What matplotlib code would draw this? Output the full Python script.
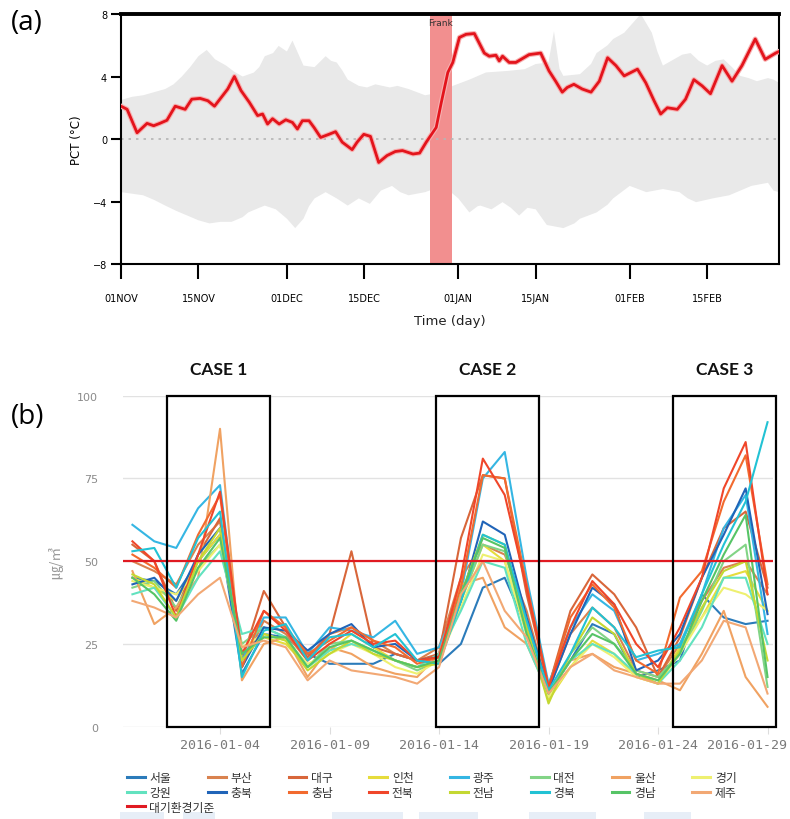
import matplotlib
matplotlib.use('Agg')
import matplotlib.pyplot as plt
from matplotlib.patches import Rectangle
from matplotlib.transforms import ScaledTranslation
import numpy as np

## (a) PCT data, vertices (day since 01NOV, value) ###############################
pct_days = [0, 1.1, 2.9, 4.7, 5.9, 7, 8.3, 9.8, 11.6, 12.8, 14.3, 15.7, 16.9, 18.1, 19.3,
            20.5, 21.7, 23.2, 24.7, 25.6, 26.5, 27.4, 28.6, 29.8, 31, 31.9, 32.8, 34, 34.9,
            36.1, 37.6, 38.8, 40, 41.8, 42.7, 43.9, 45.1, 46.6, 48.1, 49.6, 50.9, 52.8, 54,
            55.2, 57, 57.9, 59.1, 60, 61.2, 62.4, 63.9, 65.7, 66.6, 67.8, 68.4, 69, 70.2,
            71.4, 73.8, 75.9, 77.4, 78.6, 79.8, 80.7, 81.9, 83.4, 85, 86.5, 88, 89.5, 91,
            93.4, 94.9, 96.4, 97.6, 98.8, 100.6, 102.1, 103.6, 105.1, 106.6, 108.7, 110.5,
            112.3, 114.7, 116.5, 118.4, 119]
pct_vals = [2.1, 1.9, 0.4, 1.0, 0.85, 1.0, 1.2, 2.1, 1.9, 2.55, 2.6, 2.45, 2.1, 2.65, 3.2,
            4.0, 3.1, 2.35, 1.5, 1.6, 0.96, 1.3, 0.96, 1.23, 1.06, 0.64, 1.17, 1.17, 0.74,
            0.1, 0.3, 0.47, -0.2, -0.68, -0.2, 0.3, 0.17, -1.5, -1.06, -0.8, -0.74, -0.96, -0.9,
            -0.2, 0.74, 2.3, 4.26, 4.9, 6.5, 6.7, 6.75, 5.5, 5.3, 5.36, 5.0, 5.3, 4.9,
            4.9, 5.4, 5.5, 4.36, 3.7, 3.0, 3.3, 3.5, 3.2, 3.0, 3.7, 5.2, 4.7, 4.04,
            4.47, 3.6, 2.45, 1.6, 2.0, 1.9, 2.55, 3.8, 3.4, 2.9, 4.7, 3.7,
            4.7, 6.4, 5.1, 5.5, 5.6]

upper_days = [0, 2, 4, 6, 8, 9.5, 11, 12.5, 14, 15.5, 17, 19, 20.5, 22, 24, 25, 26, 27.5,
              28.5, 30, 31, 32, 33, 35, 37, 38, 39, 40, 41, 43, 44.5, 46, 48.6, 50, 52, 55,
              58, 60, 63, 66, 70, 73, 75, 77.3, 78.3, 79.3, 80, 83, 85, 86, 88, 89, 91, 92,
              93, 94, 95, 96, 97, 98, 100, 101.5, 103, 104.5, 106, 107.5, 109, 110.5, 112,
              113.5, 115, 117, 118, 119]
upper_vals = [2.5, 2.7, 2.8, 3.0, 3.2, 3.5, 4.0, 4.6, 5.3, 5.7, 5.1, 4.7, 4.3, 4.0, 4.25,
              4.6, 5.3, 5.5, 5.96, 5.6, 6.3, 5.5, 4.7, 4.6, 5.3, 5.0, 4.9, 4.4, 3.8, 3.4,
              3.3, 3.5, 3.3, 3.4, 3.2, 2.8, 3.0, 3.4, 3.8, 4.26, 4.36, 4.47, 4.8, 4.9, 6.9,
              4.5, 4.04, 4.15, 4.8, 5.5, 6.0, 6.4, 6.8, 7.2, 7.6, 8.0, 7.4, 6.8, 5.6, 4.7,
              5.1, 5.4, 5.5, 5.0, 4.7, 5.0, 5.1, 4.6, 4.04, 3.9, 3.7, 3.9, 3.8, 3.6]

lower_days = [0, 2, 4, 6, 8, 10, 12, 14, 16, 18, 20, 22, 23, 25, 26, 28, 29, 30, 31.5, 33,
              34, 35, 37, 39, 41, 43, 45, 47, 49, 50.5, 52, 55, 58, 60, 61, 63, 64.5, 65,
              67, 69, 70.5, 72, 73.5, 75, 77, 80, 82, 83, 86, 88, 89, 92, 95, 98, 101,
              102.5, 104, 107, 110, 112, 114, 117, 118, 119]
lower_vals = [-3.4, -3.5, -3.6, -3.9, -4.26, -4.6, -4.9, -5.2, -5.4, -5.3, -5.3, -5.0, -4.7,
              -4.4, -4.26, -4.5, -4.8, -5.1, -5.7, -5.1, -4.3, -3.8, -3.4, -3.8, -4.26, -3.8,
              -4.15, -3.3, -3.0, -3.4, -3.6, -3.4, -3.0, -3.5, -3.8, -4.7, -4.3, -4.26,
              -4.5, -4.04, -4.4, -4.9, -4.4, -4.5, -5.5, -5.7, -5.4, -5.1, -4.7, -4.2,
              -3.8, -3.0, -3.4, -3.2, -3.4, -3.8, -4.04, -3.8, -3.6, -3.3, -3.0, -2.8,
              -3.3, -3.4]

frank_start, frank_end = 55.8, 59.9
top_ticks = [0, 14, 30, 44, 61, 75, 92, 106]
top_ticklabels = ['01NOV', '15NOV', '01DEC', '15DEC', '01JAN', '15JAN', '01FEB', '15FEB']

## (b) PM10 data, 2015-12-31 .. 2016-01-29 ######################################
seoul    = [45, 44, 40, 50, 58, 16, 28, 27, 22, 19, 19, 19, 22, 20, 19, 25, 42, 45, 30, 10, 20, 31, 28, 15, 17, 20, 40, 33, 31, 32]
busan    = [50, 47, 43, 55, 62, 18, 32, 28, 20, 28, 30, 26, 22, 20, 24, 45, 55, 52, 35, 11, 28, 36, 30, 17, 15, 25, 38, 48, 50, 40]
daegu    = [55, 50, 35, 52, 63, 20, 41, 30, 21, 28, 53, 24, 22, 20, 22, 57, 76, 75, 40, 12, 35, 46, 40, 30, 15, 27, 45, 60, 65, 42]
incheon  = [45, 42, 38, 50, 58, 22, 27, 25, 18, 23, 28, 24, 20, 18, 20, 38, 55, 50, 28, 8, 18, 26, 22, 15, 13, 24, 33, 45, 47, 35]
gwangju  = [61, 56, 54, 66, 73, 20, 33, 33, 22, 30, 29, 27, 32, 22, 24, 40, 75, 83, 45, 13, 30, 40, 35, 20, 22, 25, 40, 60, 70, 28]
daejeon  = [42, 44, 36, 48, 55, 25, 30, 27, 18, 25, 26, 23, 20, 17, 20, 38, 55, 53, 30, 9, 22, 30, 25, 17, 15, 22, 35, 50, 55, 12]
ulsan    = [47, 31, 36, 45, 90, 14, 25, 27, 15, 24, 22, 18, 16, 15, 22, 43, 45, 30, 25, 10, 20, 22, 18, 16, 14, 11, 22, 35, 15, 6]
gyeonggi = [44, 42, 40, 47, 55, 24, 28, 26, 19, 22, 25, 22, 18, 16, 20, 36, 52, 50, 28, 9, 18, 25, 21, 15, 13, 22, 33, 42, 40, 35]
gangwon  = [40, 42, 33, 45, 53, 28, 30, 27, 18, 23, 25, 23, 20, 18, 22, 35, 50, 48, 25, 10, 20, 25, 22, 16, 13, 20, 30, 45, 45, 25]
chungbuk = [43, 45, 38, 52, 60, 18, 30, 29, 23, 28, 31, 24, 25, 20, 21, 38, 62, 58, 33, 11, 28, 42, 37, 17, 20, 28, 45, 58, 72, 34]
chungnam = [52, 48, 42, 58, 70, 18, 35, 30, 22, 26, 30, 26, 24, 19, 21, 42, 76, 75, 43, 12, 33, 43, 36, 20, 16, 39, 47, 68, 82, 43]
jeonbuk  = [56, 50, 33, 52, 71, 22, 35, 29, 20, 25, 29, 25, 26, 20, 21, 45, 81, 70, 42, 12, 30, 44, 37, 25, 18, 30, 45, 72, 86, 40]
jeonnam  = [46, 43, 33, 50, 60, 20, 28, 26, 17, 22, 26, 22, 20, 18, 19, 40, 58, 55, 30, 7, 22, 33, 28, 16, 13, 23, 36, 47, 50, 20]
gyeongbuk = [53, 54, 42, 57, 65, 15, 29, 31, 20, 27, 28, 24, 28, 20, 19, 38, 58, 55, 32, 11, 22, 36, 30, 21, 23, 24, 40, 55, 68, 92]
gyeongnam = [45, 40, 32, 48, 57, 22, 27, 27, 18, 24, 26, 23, 20, 18, 20, 40, 57, 54, 28, 10, 20, 28, 25, 16, 14, 22, 38, 52, 64, 15]
jeju     = [38, 36, 33, 40, 45, 24, 26, 24, 14, 20, 17, 16, 15, 13, 18, 40, 50, 35, 27, 10, 18, 22, 17, 15, 13, 13, 20, 32, 30, 10]
standard = 50

region_names = ['서울', '부산', '대구', '인천', '광주', '대전', '울산', '경기',
                '강원', '충북', '충남', '전북', '전남', '경북', '경남', '제주']
region_colors = ['#2b7bba', '#d9824f', '#d8663a', '#e6dc3c', '#35b6e3', '#82d486', '#f0a262', '#eef070',
                 '#62e2bf', '#2064b8', '#f26a2e', '#f0462a', '#c4d832', '#22c2d4', '#56c466', '#f2a874']
series = [seoul, busan, daegu, incheon, gwangju, daejeon, ulsan, gyeonggi,
          gangwon, chungbuk, chungnam, jeonbuk, jeonnam, gyeongbuk, gyeongnam, jeju]
pm_ticks = [4, 9, 14, 19, 24, 29]
pm_ticklabels = ['2016-01-04', '2016-01-09', '2016-01-14', '2016-01-19', '2016-01-24', '2016-01-29']
cases = [('CASE 1', 1.57, 6.28), ('CASE 2', 13.85, 18.56), ('CASE 3', 24.7, 29.38)]

fig = plt.figure(figsize=(7.9, 8.2), dpi=100)

## panel (a) ###################################################################
ax1 = fig.add_axes([0.1532, 0.6768, 0.8329, 0.3049])
ax1.fill(np.r_[upper_days, lower_days[::-1]], np.r_[upper_vals, lower_vals[::-1]],
         color='#e9e9e9', lw=0, zorder=1)
ax1.axvspan(frank_start, frank_end, color='#f28f8f', lw=0, zorder=2)
ax1.axhline(0, color='#b5b5b5', ls=(0, (1.5, 3)), lw=1.2, zorder=2)
ax1.plot(pct_days, pct_vals, color='#f7b0b0', lw=3.6, zorder=3, solid_joinstyle='round')
ax1.plot(pct_days, pct_vals, color='#e3141c', lw=2.0, zorder=4)
ax1.text((frank_start + frank_end) / 2, 7.75, 'Frank', ha='center', va='top', fontsize=6.5, color='#333333')
ax1.set_xlim(0, 119)
ax1.set_ylim(-8, 8)
ax1.set_xticks(top_ticks)
ax1.set_xticklabels(top_ticklabels)
ax1.set_yticks([-8, -4, 0, 4, 8])
ax1.tick_params(axis='x', direction='out', length=11, width=1.5, labelsize=7, pad=10)
ax1.tick_params(axis='y', direction='out', length=7, width=1.5, labelsize=7, pad=3)
for s in ['left', 'bottom', 'right']:
    ax1.spines[s].set_linewidth(1.5)
ax1.spines['top'].set_linewidth(2.8)
ax1.set_ylabel('PCT (°C)', fontsize=8.5, labelpad=7)
ax1.set_xlabel('Time (day)', fontsize=9.5, labelpad=8, color='#222222')
fig.text(0.014, 0.972, '(a)', fontsize=20, family='Open Sans', va='center')

## panel (b) ###################################################################
ax2 = fig.add_axes([0.1557, 0.1126, 0.8228, 0.4036])
days = np.arange(len(seoul))
for vals, c in zip(series, region_colors):
    ax2.plot(days, vals, color=c, lw=1.5, zorder=3)
std_line = ax2.axhline(standard, color='#e01a22', lw=1.6, zorder=4)
for name, x0, x1 in cases:
    ax2.add_patch(Rectangle((x0, 0), x1 - x0, 100, fill=False, ec='black', lw=1.6,
                            zorder=5, clip_on=False))
    ax2.text((x0 + x1) / 2, 108, name, ha='center', va='center', fontsize=12.5,
             fontweight='bold', family='Lato', color='#111111')
ax2.set_xlim(-0.43, 29.25)
ax2.set_ylim(0, 100)
ax2.set_yticks([0, 25, 50, 75, 100])
ax2.set_xticks(pm_ticks)
ax2.set_xticklabels(pm_ticklabels, family='DejaVu Sans Mono')
ax2.grid(axis='y', color='#e2e2e2', lw=1)
ax2.set_axisbelow(True)
for s in ax2.spines.values():
    s.set_visible(False)
ax2.tick_params(axis='y', length=0, labelsize=8, labelcolor='#8a8a8a', pad=18)
ax2.tick_params(axis='x', length=5, color='#dddddd', labelsize=9.5, labelcolor='#7a7a7a', pad=3)
# last date label sits shifted left, flush with the figure edge
last = ax2.get_xticklabels()[-1]
last.set_transform(last.get_transform() + ScaledTranslation(-0.21, 0, fig.dpi_scale_trans))
ax2.set_ylabel('㎍/㎥', family=['Noto Sans CJK KR', 'DejaVu Sans'], fontsize=10,
               color='#999999', labelpad=10)
fig.text(0.014, 0.491, '(b)', fontsize=20, family='Open Sans', va='center')

# legend: row-major order in 8 columns, standard line on its own row
order = []
for j in range(8):
    order += [j, j + 8]
handles = [ax2.lines[i] for i in order]
labels = [region_names[i] for i in order]
legfont = {'family': ['Noto Sans CJK KR', 'DejaVu Sans'], 'size': 8.5}
lg1 = fig.legend(handles, labels, loc='upper left', bbox_to_anchor=(0.1608, 0.0585), ncol=8,
                 frameon=False, prop=legfont, handlelength=1.5, handletextpad=0.4,
                 columnspacing=3.1, labelspacing=0.2, borderpad=0, borderaxespad=0)
lg2 = fig.legend([std_line], ['대기환경기준'], loc='upper left', bbox_to_anchor=(0.1608, 0.0225),
                 frameon=False, prop=legfont, handlelength=1.5, handletextpad=0.4,
                 borderpad=0, borderaxespad=0)
for lg in (lg1, lg2):
    for t in lg.get_texts():
        t.set_color('#333333')
    for h in lg.get_lines():
        h.set_linewidth(2.2)

# faint watermark bars at the bottom edge
for x0, w in [(0.152, 0.055), (0.232, 0.04), (0.42, 0.09), (0.53, 0.075), (0.67, 0.085), (0.815, 0.06)]:
    fig.patches.append(Rectangle((x0, 0.0), w, 0.008, transform=fig.transFigure,
                                 color='#e7eef7', lw=0, zorder=0))

fig.savefig('out.png', dpi=100)
